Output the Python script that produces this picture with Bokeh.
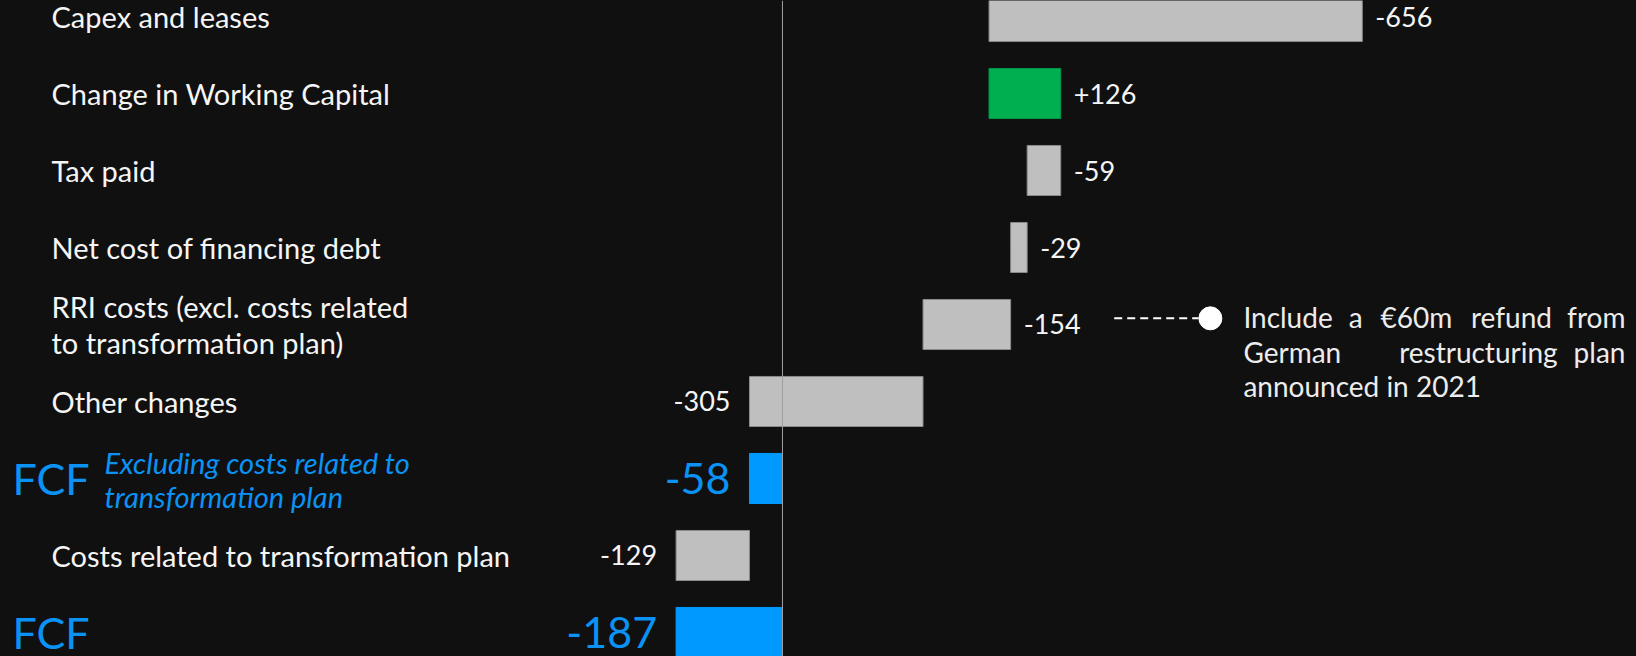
from bokeh.plotting import figure
from bokeh.models import ColumnDataSource, Range1d, Span
from bokeh.embed import file_html
from bokeh.resources import INLINE
from bokeh.core.properties import value

# ---------------- data ----------------
categories = [
    "Capex and leases",
    "Change in Working Capital",
    "Tax paid",
    "Net cost of financing debt",
    "RRI costs (excl. costs related\nto transformation plan)",
    "Other changes",
    "FCF",
    "Costs related to transformation plan",
    "FCF",
]
values = [-656, 126, -59, -29, -154, -305, -58, -129, -187]
kinds = ["delta", "delta", "delta", "delta", "delta", "delta", "total", "delta", "total"]
subtitles = ["", "", "", "", "", "", "Excluding costs related to\ntransformation plan", "", ""]
note_line1 = ["Include", "a", "\u20ac60m", "refund", "from"]
note_line2 = ["German", "restructuring", "plan"]
note_line3 = ["announced in 2021"]

# ---------------- style ----------------
BG = "#101010"
GREY = "#bfbfbf"
GREY_LINE = "#8a8a8a"
GREEN = "#00b050"
GREEN_LINE = "#00964a"
BLUE = "#0099ff"
BLUE_TEXT = "#0a93f5"
WHITE = "#f5f5f5"
FONT = "Lato"

X_MIN, X_MAX = -1374.3, 1500.9
Y_TOP, Y_BOTTOM = -0.208, 8.312

# ---------------- waterfall ----------------
first_total = kinds.index("total")
run = values[first_total] - sum(values[:first_total])
starts, ends = [], []
for v, k in zip(values, kinds):
    if k == "total":
        s, e = 0, v
    else:
        s, e = run, run + v
    run = e
    starts.append(s)
    ends.append(e)

rows = list(range(len(values)))
lefts = [min(s, e) for s, e in zip(starts, ends)]
rights = [max(s, e) for s, e in zip(starts, ends)]
fills, lines = [], []
for v, k in zip(values, kinds):
    if k == "total":
        fills.append(BLUE); lines.append(BLUE)
    elif v > 0:
        fills.append(GREEN); lines.append(GREEN_LINE)
    else:
        fills.append(GREY); lines.append(GREY_LINE)

bars = ColumnDataSource(dict(row=rows, left=lefts, right=rights, fill=fills, line=lines))

p = figure(width=1636, height=656, output_backend="svg", toolbar_location=None,
           x_range=Range1d(X_MIN, X_MAX), y_range=Range1d(Y_BOTTOM, Y_TOP),
           x_axis_location=None, y_axis_location=None,
           background_fill_color=BG, border_fill_color=BG, outline_line_color=None,
           min_border=0)
p.min_border_left = p.min_border_right = p.min_border_top = p.min_border_bottom = 0
p.grid.visible = False

p.hbar(y="row", left="left", right="right", height=0.65, fill_color="fill",
       line_color="line", line_width=1, source=bars)

p.add_layout(Span(location=0, dimension="height", line_color="#a0a0a0", line_width=1))

# value labels
lab_r = dict(x=[], y=[], text=[], color=[], size=[])
lab_l = dict(x=[], y=[], text=[], color=[], size=[])
for i, (v, k) in enumerate(zip(values, kinds)):
    txt = f"{v:+d}" if v > 0 else f"{v}"
    col = BLUE_TEXT if k == "total" else WHITE
    size = "43px" if k == "total" else "27px"
    if lefts[i] < 0:
        d, xx = lab_l, lefts[i]
    else:
        d, xx = lab_r, rights[i]
    d["x"].append(xx); d["y"].append(i); d["text"].append(txt)
    d["color"].append(col); d["size"].append(size)

p.text(x="x", y="y", text="text", text_color="color", text_font_size="size",
       text_font=value(FONT), text_align="left", text_baseline="middle",
       x_offset=13, source=ColumnDataSource(lab_r))
p.text(x="x", y="y", text="text", text_color="color", text_font_size="size",
       text_font=value(FONT), text_align="right", text_baseline="middle",
       x_offset=-19, source=ColumnDataSource(lab_l))

# category labels
cat_rows = [i for i, k in enumerate(kinds) if k == "delta"]
p.text(x=[X_MIN] * len(cat_rows), y=cat_rows, text=[categories[i] for i in cat_rows],
       x_offset=51, text_color=WHITE, text_font_size="29px", text_font=value(FONT),
       text_align="left", text_baseline="middle", text_line_height=1.05)

tot_rows = [i for i, k in enumerate(kinds) if k == "total"]
p.text(x=[X_MIN] * len(tot_rows), y=tot_rows, text=[categories[i] for i in tot_rows],
       x_offset=12, text_color=BLUE_TEXT, text_font_size="43px", text_font=value(FONT),
       text_align="left", text_baseline="middle")

sub_rows = [i for i, s in enumerate(subtitles) if s]
p.text(x=[X_MIN] * len(sub_rows), y=[r + 0.015 for r in sub_rows],
       text=[subtitles[i] for i in sub_rows],
       x_offset=104, text_color=BLUE_TEXT, text_font_size="29px", text_font=value(FONT),
       text_font_style="italic", text_align="left", text_baseline="middle",
       text_line_height=0.97)

# annotation for RRI costs
rri = 4
p.line(x=[583, 731], y=[rri - 0.08, rri - 0.08], line_color="white", line_width=2,
       line_dash="8 5")
p.scatter(x=[752], y=[rri - 0.08], size=23, fill_color="white", line_color="white")

NOTE = "#ececec"
y1 = rri - 0.095
y2, y3 = y1 + 0.447, y1 + 0.894
p.text(x=[810, 995, 1051, 1210], y=[y1] * 4, text=note_line1[0:4], text_align="left")
p.text(x=[1481.5], y=[y1], text=[note_line1[4]], text_align="right")
p.text(x=[810], y=[y2], text=[note_line2[0]], text_align="left")
p.text(x=[1223], y=[y2], text=[note_line2[1]], text_align="center")
p.text(x=[1481.5], y=[y2], text=[note_line2[2]], text_align="right")
p.text(x=[810], y=[y3], text=note_line3, text_align="left")
for r in p.renderers[-6:]:
    g = r.glyph
    g.text_color = NOTE
    g.text_font_size = "28px"
    g.text_font = value(FONT)
    g.text_baseline = "alphabetic"

html = file_html(p, INLINE).replace("<body>", '<body style="background-color:%s;">' % BG)
open("out.html", "w").write(html)
